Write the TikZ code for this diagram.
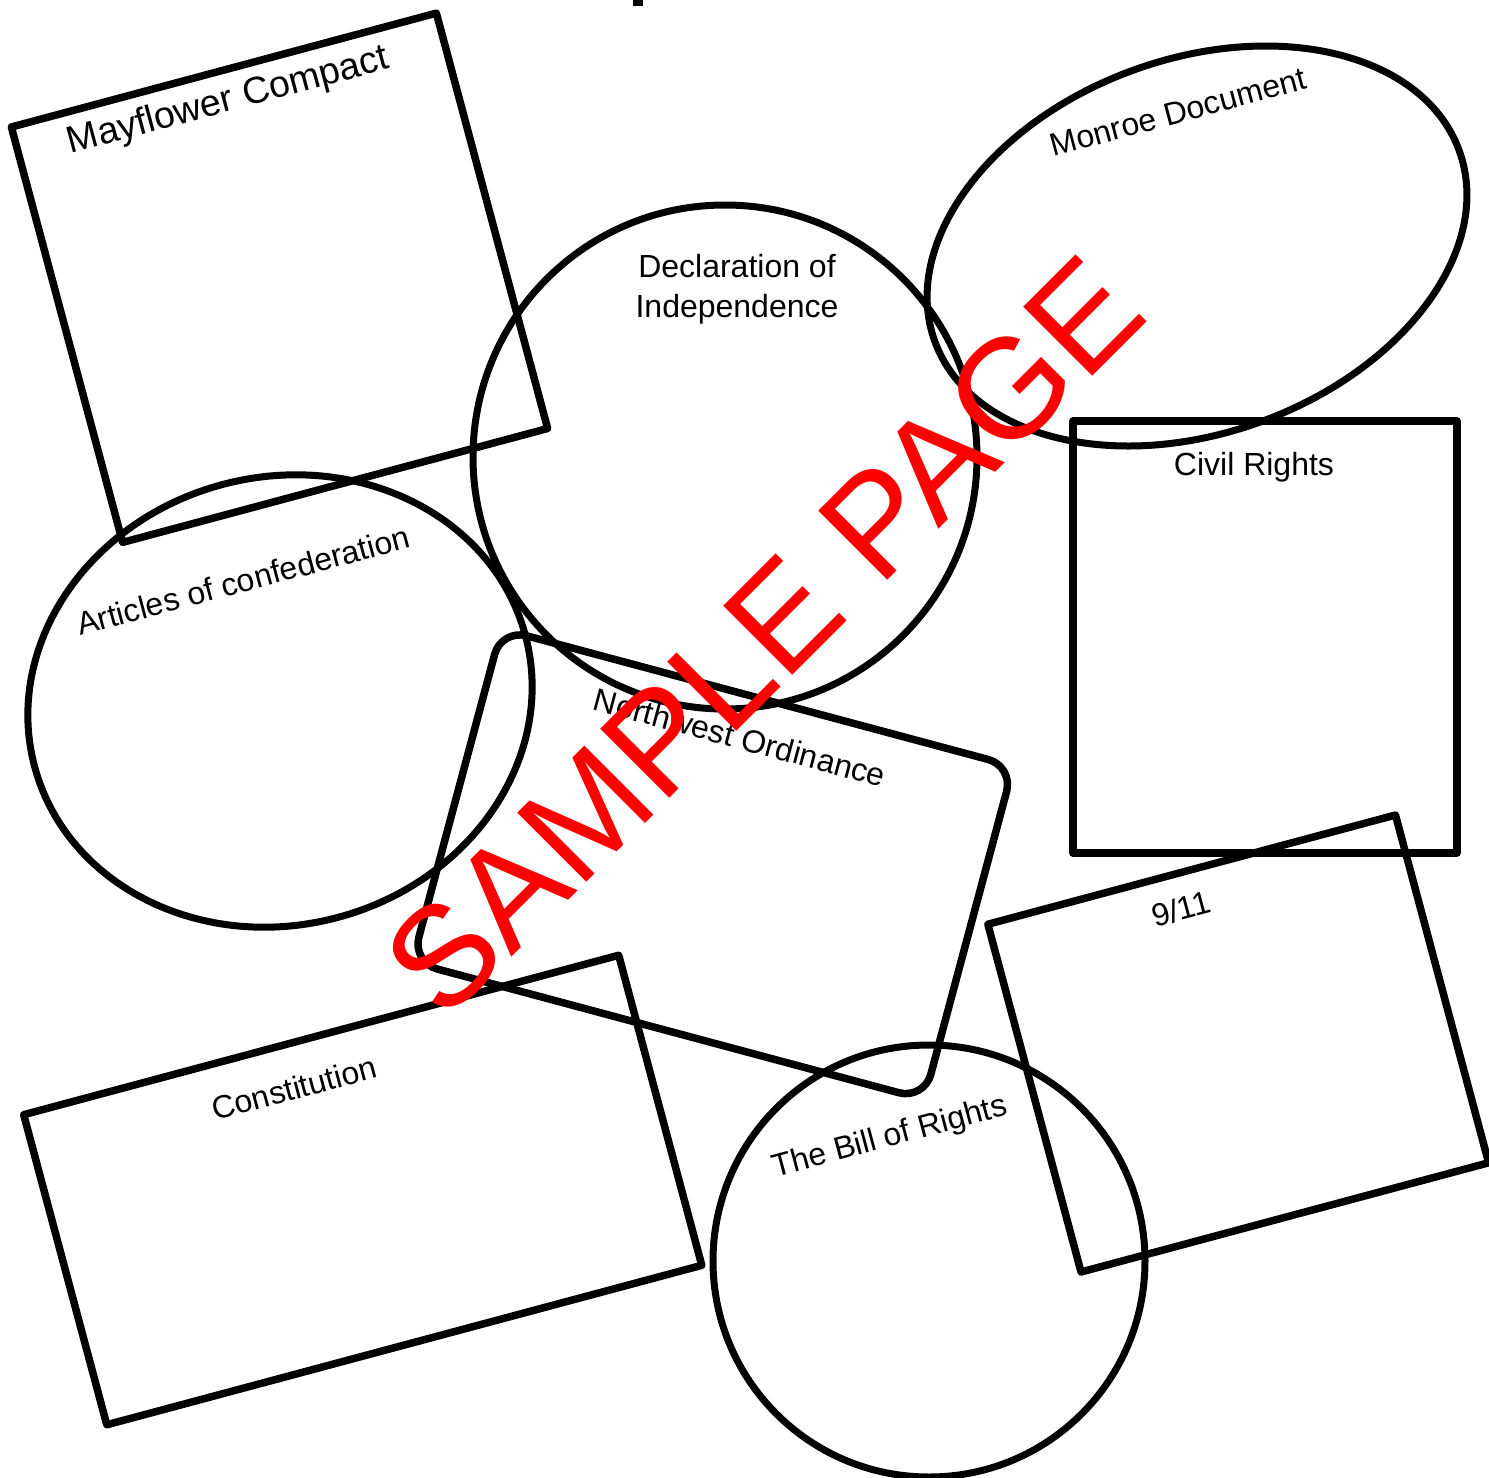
\documentclass[tikz,border=0pt]{standalone}
\usepackage{fontspec}
\setmainfont{Liberation Sans}
\usetikzlibrary{shapes.geometric}
\begin{document}
\begin{tikzpicture}[x=1pt,y=-1pt,
  shp/.style={draw=black, line width=7.5pt, inner sep=0pt, outer sep=0pt, line join=round},
  roundshp/.style={shp, line width=7pt},
  lbl/.style={inner sep=0pt, outer sep=0pt, text=black, font=\fontsize{32}{39.5}\selectfont},
  bigcaption/.style={lbl, font=\fontsize{37.5}{44}\selectfont},
  watermark/.style={inner sep=0pt, text=red, font=\fontsize{142}{144}\selectfont}]
\useasboundingbox (0,0) rectangle (1489,1478);
\clip (0,0) rectangle (1489,1478);
\fill[white] (0,0) rectangle (1489,1478);
% fragment of a cut-off title
\node[fill=black, inner sep=0pt, minimum width=10pt, minimum height=6pt, anchor=north west] (titlefrag) at (633,0) {};
% shapes
\node[shp, rotate=15, minimum width=440pt, minimum height=430pt] (mayflower) at (279.5,277.75) {};
\node[roundshp, circle, minimum size=504pt] (decl) at (725,457) {};
\node[roundshp, ellipse, rotate=20, minimum width=558pt, minimum height=374pt] (monroe) at (1197,246) {};
\node[shp, minimum width=384pt, minimum height=432pt] (civil) at (1265,637) {};
\node[roundshp, ellipse, rotate=15, minimum width=508pt, minimum height=448pt] (articles) at (280,701) {};
\node[shp, rounded corners=26pt, rotate=-15, minimum width=530pt, minimum height=345pt] (northwest) at (712.75,864.25) {};
\node[shp, rotate=15, minimum width=422pt, minimum height=360pt] (nineeleven) at (1238.25,1043.5) {};
\node[shp, rotate=15, minimum width=616pt, minimum height=321pt] (constitution) at (362.75,1190) {};
\node[roundshp, circle, minimum size=432pt] (bill) at (929,1261) {};
% labels
\node[bigcaption, rotate=15, anchor=base] (mayflowerlbl) at (231,111) {Mayflower Compact};
\node[lbl, align=center, anchor=base] (decllbl) at (737,317) {Declaration of\\Independence};
\node[lbl, rotate=15, anchor=base] (monroelbl) at (1181,122.5) {Monroe Document};
\node[lbl, anchor=base] (civillbl) at (1254,475) {Civil Rights};
\node[lbl, rotate=15, anchor=base] (articleslbl) at (246,591.5) {Articles of confederation};
\node[lbl, rotate=-15, anchor=base] (northwestlbl) at (737,748.5) {Northwest Ordinance};
\node[lbl, rotate=15, anchor=base] (nineelevenlbl) at (1184,920) {9/11};
\node[lbl, rotate=15, anchor=base] (constitutionlbl) at (297,1099) {Constitution};
\node[lbl, rotate=15, anchor=base] (billlbl) at (892,1146) {The Bill of Rights};
% watermark
\node[watermark, rotate=45] (sample) at (763,636) {SAMPLE PAGE};
\end{tikzpicture}
\end{document}
